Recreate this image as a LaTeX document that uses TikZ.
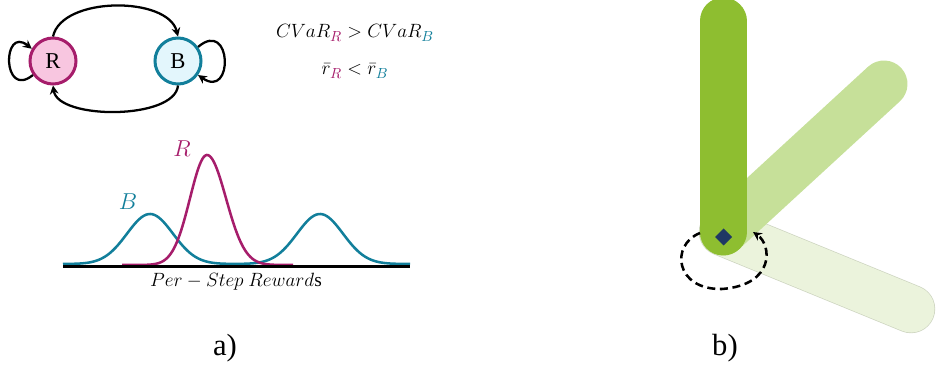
\documentclass[tikz,border=0pt]{standalone}
\usepackage{fontspec}
\setmainfont{Liberation Serif}
\usetikzlibrary{arrows.meta}
\definecolor{mag}{RGB}{166,29,107}
\definecolor{tealc}{RGB}{18,127,155}
\definecolor{pinkfill}{RGB}{248,198,224}
\definecolor{bluefill}{RGB}{227,246,252}
\definecolor{gdark}{RGB}{142,190,48}
\definecolor{gmid}{RGB}{198,224,153}
\definecolor{glight}{RGB}{235,243,220}
\definecolor{gedge}{RGB}{205,212,192}
\definecolor{navy}{RGB}{31,56,100}
\tikzset{
  statenode/.style={circle, line width=2.25pt, minimum size=34.5pt, inner sep=0pt, font=\fontsize{17}{20}\selectfont},
  trans/.style={line width=1.7pt, -{Stealth[length=6.5pt,width=6.5pt]}},
  bar/.style={line cap=round, line width=35.25pt},
  dist/.style={line width=1.9pt},
  mathtxt/.style={inner sep=0pt, font=\fontsize{15}{17}\selectfont},
}
\begin{document}
\begin{tikzpicture}[x=0.75pt,y=-0.75pt]
\useasboundingbox (0,0) rectangle (936,366);
% ---- a) Markov chain
\node[statenode, draw=mag, fill=pinkfill] (R) at (53,61) {R};
\node[statenode, draw=tealc, fill=bluefill] (B) at (178,61) {B};
\draw[trans] (R.north) .. controls (62,-4) and (168,-4) .. (B.north);
\draw[trans] (B.south) .. controls (175,120) and (58,120) .. (R.south);
\draw[trans] (R.215) .. controls (2,100) and (2,25) .. (R.150);
\draw[trans] (B.35) .. controls (232,18) and (234,100) .. (B.-35);
% ---- inequalities
\node[mathtxt] (c1) at (355,33) {$CVaR_{\color{mag}R} > CVaR_{\color{tealc}B}$};
\node[mathtxt] (c2) at (355,71) {$\bar{r}_{\color{mag}R} < \bar{r}_{\color{tealc}B}$};
% ---- distributions
\coordinate (ax0) at (63,266.5);
\coordinate (ax1) at (410,266.5);
\draw[tealc, dist] plot[domain=63:410, samples=160, smooth] (\x, {264 - 50*exp(-min(0.5*((\x-150)/23)^2,20)) - 50*exp(-min(0.5*((\x-320)/23)^2,20))});
\draw[mag, dist] plot[domain=122:293, samples=120, smooth] (\x, {265 - 110*exp(-min(0.5*((\x-207)/(\x<207?17:19))^2,20))});
\draw[line width=1.6pt] (ax0) -- (ax1);
\node[text=mag, font=\fontsize{17}{20}\selectfont] (lr) at (182,149) {$R$};
\node[text=tealc, font=\fontsize{17}{20}\selectfont] (lb) at (128,202) {$B$};
\node[font=\fontsize{14.5}{17}\selectfont] (xl) at (236,282) {$Per - Step\ Reward$s};
\node[font=\fontsize{23}{26}\selectfont] (la) at (225,348) {a)};
% ---- b) bars
\coordinate (piv) at (723,232);
\coordinate (top) at (723,21);
\coordinate (e1) at (884,84);
\coordinate (e2) at (911,309);
\draw[bar, gedge, line width=36.3pt] (piv) -- (e2);
\draw[bar, glight] (piv) -- (e2);
\draw[bar, gmid] (piv) -- (e1);
\draw[bar, gdark] (top) -- (piv);
\fill[navy] (723.5,228.5) -- (732,237) -- (723.5,245.5) -- (715,237) -- cycle;
\draw[line width=1.9pt, dash pattern=on 6pt off 3.5pt, -{Stealth[length=6.5pt,width=6.5pt]}]
  (700,233) .. controls (670,245) and (675,290) .. (722,289) .. controls (775,285) and (772,245) .. (753,232);
\node[font=\fontsize{23}{26}\selectfont] (lbb) at (725,348) {b)};
\end{tikzpicture}
\end{document}
